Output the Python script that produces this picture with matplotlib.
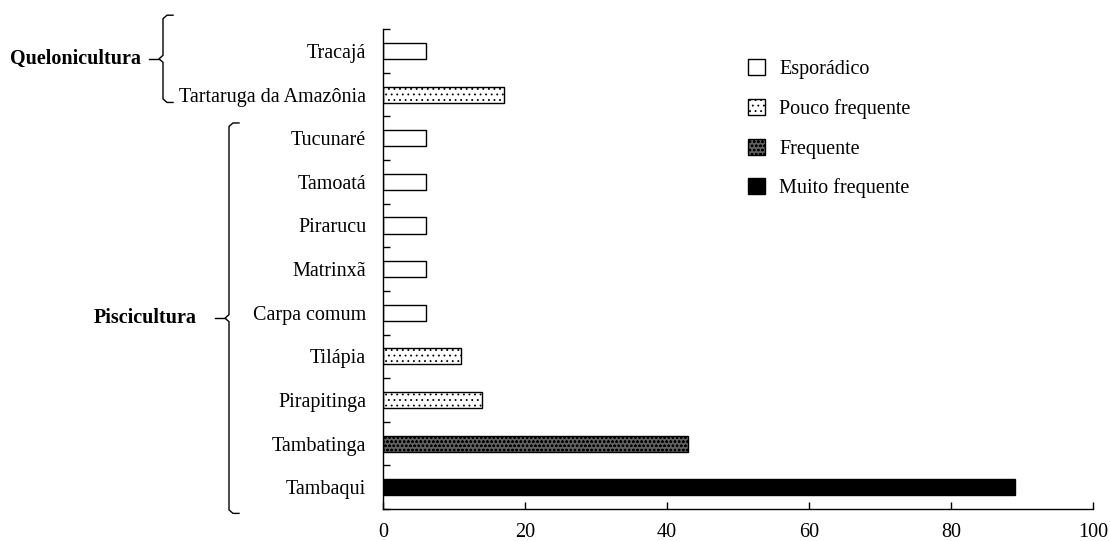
import matplotlib
matplotlib.use('Agg')
import matplotlib.pyplot as plt
import matplotlib.transforms as mtransforms
from matplotlib.patches import Patch
import numpy as np

# Data (top to bottom)
species = ["Tracajá", "Tartaruga da Amazônia", "Tucunaré", "Tamoatá", "Pirarucu",
           "Matrinxã", "Carpa comum", "Tilápia", "Pirapitinga", "Tambatinga", "Tambaqui"]
values = [6, 17, 6, 6, 6, 6, 6, 11, 14, 43, 89]
classes = ["Esporádico", "Pouco frequente", "Esporádico", "Esporádico", "Esporádico",
           "Esporádico", "Esporádico", "Pouco frequente", "Pouco frequente",
           "Frequente", "Muito frequente"]
class_names = ["Esporádico", "Pouco frequente", "Frequente", "Muito frequente"]
groups = ["Quelonicultura", "Piscicultura"]
group_members = [["Tracajá", "Tartaruga da Amazônia"],
                 ["Tucunaré", "Tamoatá", "Pirarucu", "Matrinxã", "Carpa comum",
                  "Tilápia", "Pirapitinga", "Tambatinga", "Tambaqui"]]
xticks = [0, 20, 40, 60, 80, 100]

# Styles per class
styles = {
    "Esporádico":      dict(facecolor='white', hatch=None),
    "Pouco frequente": dict(facecolor='white', hatch='...'),
    "Frequente":       dict(facecolor='#606060', hatch='oooo'),
    "Muito frequente": dict(facecolor='black', hatch=None),
}

plt.rcParams['font.family'] = ['Liberation Serif', 'DejaVu Serif']
plt.rcParams['hatch.linewidth'] = 0.6
plt.rcParams['hatch.color'] = 'black'

FS = 14.5

fig = plt.figure(figsize=(11.10, 5.41), dpi=100)
ax = fig.add_axes([0.345, 0.0591, 0.64, 0.887])

n = len(species)
ypos = np.arange(n)[::-1]  # top item at highest y

for y, v, c in zip(ypos, values, classes):
    st = styles[c]
    ax.barh(y, v, height=0.37, color=st['facecolor'], edgecolor='black',
            linewidth=1.0, hatch=st['hatch'])

ax.set_ylim(-0.5, n - 0.5)
ax.set_xlim(0, 100)

ax.set_yticks(ypos)
ax.set_yticklabels(species, fontsize=FS)
ax.set_yticks(np.arange(-0.5, n, 1.0), minor=True)
ax.tick_params(axis='y', which='major', length=0, pad=12)
ax.tick_params(axis='y', which='minor', direction='in', length=5, width=1)

ax.set_xticks(xticks)
ax.set_xticklabels([str(t) for t in xticks], fontsize=FS)
ax.tick_params(axis='x', direction='in', length=5, width=1, pad=10)

for s in ['top', 'right']:
    ax.spines[s].set_visible(False)
for s in ['left', 'bottom']:
    ax.spines[s].set_linewidth(1.0)

# Legend
handles = [Patch(facecolor=styles[c]['facecolor'], edgecolor='black',
                 hatch=styles[c]['hatch'], linewidth=1.0) for c in class_names]
leg = fig.legend(handles, class_names, loc='upper left',
                 bbox_to_anchor=(730 / 1110, 1 - 41 / 541), frameon=False,
                 fontsize=FS, handlelength=0.85, handleheight=0.85,
                 handletextpad=0.7, labelspacing=0.98)

# Group braces: x in figure fraction, y in data units
trans = mtransforms.blended_transform_factory(fig.transFigure, ax.transData)


def brace(x_px, y_top, y_bot, label, label_right_px):
    x = x_px / 1110
    h = 10 / 1110
    k = 4 / 1110
    ymid = (y_top + y_bot) / 2
    r = 0.08
    xs = [x + h, x + k, x, x, x - k, x, x, x + k, x + h]
    ys = [y_top, y_top, y_top - r, ymid + r, ymid, ymid - r, y_bot + r, y_bot, y_bot]
    ax.plot(xs, ys, color='black', lw=1.0, transform=trans, clip_on=False)
    ax.plot([x - 14 / 1110, x - k], [ymid, ymid], color='black', lw=1.0,
            transform=trans, clip_on=False)
    ax.text(label_right_px / 1110, ymid, label, transform=trans, ha='right',
            va='center', fontsize=FS, fontweight='bold')


idx = {s: y for s, y in zip(species, ypos)}
q = [idx[s] for s in group_members[0]]
p = [idx[s] for s in group_members[1]]
brace(163, max(q) + 0.82, min(q) - 0.18, groups[0], 141)
brace(229, max(p) + 0.35, min(p) - 0.6, groups[1], 197)

fig.savefig('out.png', dpi=100)
